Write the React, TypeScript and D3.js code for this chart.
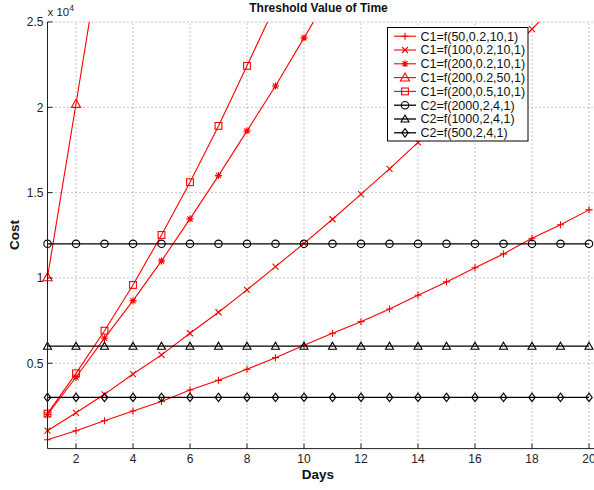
import React from 'react';
import * as d3 from 'd3';

// days on the x axis
const days = [1, 2, 3, 4, 5, 6, 7, 8, 9, 10, 11, 12, 13, 14, 15, 16, 17, 18, 19, 20];

// C1 series (values past the top are clipped)
const c1_50_02_10 = [520, 1050, 1630, 2200, 2760, 3430, 4000, 4650, 5330, 6050, 6760, 7440, 8180, 8990, 9770, 10600, 11410, 12330, 13120, 13990];
const c1_100_02_10 = [1050, 2100, 3180, 4370, 5490, 6760, 7990, 9300, 10660, 12030, 13440, 14910, 16390, 17950, 19540, 21170, 22850, 24580, 26350, 28200];
const c1_200_02_10 = [2000, 4180, 6470, 8670, 11000, 13460, 16000, 18620, 21250, 24070, 26900];
const c1_200_02_50 = [10040, 20200, 30500];
const c1_200_05_10 = [2050, 4410, 6910, 9590, 12520, 15610, 18910, 22430, 26000];

// C2 series (flat)
const c2_2000 = [12000, 12000, 12000, 12000, 12000, 12000, 12000, 12000, 12000, 12000, 12000, 12000, 12000, 12000, 12000, 12000, 12000, 12000, 12000, 12000];
const c2_1000 = [6000, 6000, 6000, 6000, 6000, 6000, 6000, 6000, 6000, 6000, 6000, 6000, 6000, 6000, 6000, 6000, 6000, 6000, 6000, 6000];
const c2_500 = [3000, 3000, 3000, 3000, 3000, 3000, 3000, 3000, 3000, 3000, 3000, 3000, 3000, 3000, 3000, 3000, 3000, 3000, 3000, 3000];

const xTicks = [2, 4, 6, 8, 10, 12, 14, 16, 18, 20];
const yTicks = [5000, 10000, 15000, 20000, 25000];
const yTickLabels = ['0.5', '1', '1.5', '2', '2.5'];

const series = [
  { label: 'C1=f(50,0.2,10,1)', values: c1_50_02_10, color: '#ff0000', marker: 'plus' },
  { label: 'C1=f(100,0.2,10,1)', values: c1_100_02_10, color: '#ff0000', marker: 'x' },
  { label: 'C1=f(200,0.2,10,1)', values: c1_200_02_10, color: '#ff0000', marker: 'star' },
  { label: 'C1=f(200,0.2,50,1)', values: c1_200_02_50, color: '#ff0000', marker: 'triangle' },
  { label: 'C1=f(200,0.5,10,1)', values: c1_200_05_10, color: '#ff0000', marker: 'square' },
  { label: 'C2=f(2000,2,4,1)', values: c2_2000, color: '#000000', marker: 'circle' },
  { label: 'C2=f(1000,2,4,1)', values: c2_1000, color: '#000000', marker: 'triangle' },
  { label: 'C2=f(500,2,4,1)', values: c2_500, color: '#000000', marker: 'diamond' },
];

const W = 594;
const H = 490;
const FONT = 'Liberation Sans, Arial, Helvetica, sans-serif';

const x = d3.scaleLinear().domain([1, 20]).range([47.5, 589]);
const y = d3.scaleLinear().domain([0, 25000]).range([448.6, 22]);

function Marker({ type, cx, cy, color }: { type: string; cx: number; cy: number; color: string }) {
  const common = { fill: 'none', stroke: color, strokeWidth: 1.1 };
  switch (type) {
    case 'plus':
      return <path d={`M${cx - 3.5},${cy}H${cx + 3.5}M${cx},${cy - 3.5}V${cy + 3.5}`} {...common} />;
    case 'x':
      return <path d={`M${cx - 3},${cy - 3}L${cx + 3},${cy + 3}M${cx - 3},${cy + 3}L${cx + 3},${cy - 3}`} {...common} />;
    case 'star':
      return (
        <path
          d={`M${cx - 3.5},${cy}H${cx + 3.5}M${cx},${cy - 3.5}V${cy + 3.5}M${cx - 2.6},${cy - 2.6}L${cx + 2.6},${cy + 2.6}M${cx - 2.6},${cy + 2.6}L${cx + 2.6},${cy - 2.6}`}
          {...common}
        />
      );
    case 'triangle': {
      const s = color === '#000000' ? 4 : 4.6;
      return <path d={`M${cx},${cy - s}L${cx + s},${cy + s * 0.75}L${cx - s},${cy + s * 0.75}Z`} {...common} />;
    }
    case 'square':
      return <rect x={cx - 3.4} y={cy - 3.4} width={6.8} height={6.8} {...common} />;
    case 'circle':
      return <circle cx={cx} cy={cy} r={3.7} {...common} />;
    case 'diamond':
      return <path d={`M${cx},${cy - 4.2}L${cx + 3.2},${cy}L${cx},${cy + 4.2}L${cx - 3.2},${cy}Z`} {...common} />;
    default:
      return null;
  }
}

export default function App() {
  const line = d3
    .line<number>()
    .x((_, i) => x(days[i]))
    .y((d) => y(d));

  const legendX = 387.5;
  const legendY = 27.5;
  const rowH = 13.8;

  return (
    <svg width={W} height={H} style={{ position: 'absolute', left: 0, top: 0, background: '#fff' }} fontFamily={FONT}>
      <defs>
        <clipPath id="plot">
          <rect x={x(1)} y={y(25000)} width={x(20) - x(1) + 6} height={y(0) - y(25000)} />
        </clipPath>
      </defs>

      {/* grid */}
      {xTicks.map((t) => (
        <line key={'gx' + t} x1={x(t)} x2={x(t)} y1={y(0)} y2={y(25000)} stroke="#8a8a8a" strokeWidth={1} strokeDasharray="1,3" />
      ))}
      {yTicks.map((t) => (
        <line key={'gy' + t} x1={x(1)} x2={x(20) + 5} y1={y(t)} y2={y(t)} stroke="#8a8a8a" strokeWidth={1} strokeDasharray="1,3" />
      ))}

      {/* series */}
      {series.map((s) => (
        <g key={s.label}>
          <path d={line(s.values) || ''} fill="none" stroke={s.color} strokeWidth={s.color === '#000000' ? 1.3 : 1.1} clipPath="url(#plot)" />
          {s.values.map((v, i) =>
            v <= 25000 ? <Marker key={i} type={s.marker} cx={x(days[i])} cy={y(v)} color={s.color} /> : null
          )}
        </g>
      ))}

      {/* axes */}
      <line x1={x(1)} x2={x(1)} y1={y(0)} y2={y(25000)} stroke="#222" strokeWidth={1} />
      <line x1={x(1)} x2={W} y1={y(0)} y2={y(0)} stroke="#222" strokeWidth={1} />
      {xTicks.map((t) => (
        <g key={'tx' + t}>
          <line x1={x(t)} x2={x(t)} y1={y(0)} y2={y(0) - 5} stroke="#222" />
          <text x={x(t)} y={462.5} fontSize={12} textAnchor="middle" fill="#222">
            {t}
          </text>
        </g>
      ))}
      {yTicks.map((t, i) => (
        <g key={'ty' + t}>
          <line x1={x(1)} x2={x(1) + 5} y1={y(t)} y2={y(t)} stroke="#222" />
          <text x={43.5} y={y(t) + 4.3} fontSize={12} textAnchor="end" fill="#222">
            {yTickLabels[i]}
          </text>
        </g>
      ))}
      <text x={47.5} y={15.5} fontSize={11.5} fill="#222">
        x 10
        <tspan dy={-5} fontSize={8.5}>4</tspan>
      </text>

      {/* labels */}
      <text x={318.5} y={11.8} fontSize={12} fontWeight="bold" textAnchor="middle" fill="#111">
        Threshold Value of Time
      </text>
      <text x={318} y={478.5} fontSize={13.5} fontWeight="bold" textAnchor="middle" fill="#111">
        Days
      </text>
      <text transform={`translate(18.5,235) rotate(-90)`} fontSize={13.5} fontWeight="bold" textAnchor="middle" fill="#111">
        Cost
      </text>

      {/* legend */}
      <rect x={legendX} y={legendY} width={140.5} height={113.5} fill="#fff" stroke="#000" strokeWidth={1} />
      {series.map((s, i) => {
        const cy = legendY + 8.7 + i * rowH;
        return (
          <g key={'lg' + s.label}>
            <line x1={394} x2={416} y1={cy} y2={cy} stroke={s.color} strokeWidth={s.color === '#000000' ? 1.3 : 1.1} />
            <Marker type={s.marker} cx={405} cy={cy} color={s.color} />
            <text x={420.5} y={cy + 4.4} fontSize={12.5} fill="#111">
              {s.label}
            </text>
          </g>
        );
      })}
    </svg>
  );
}
